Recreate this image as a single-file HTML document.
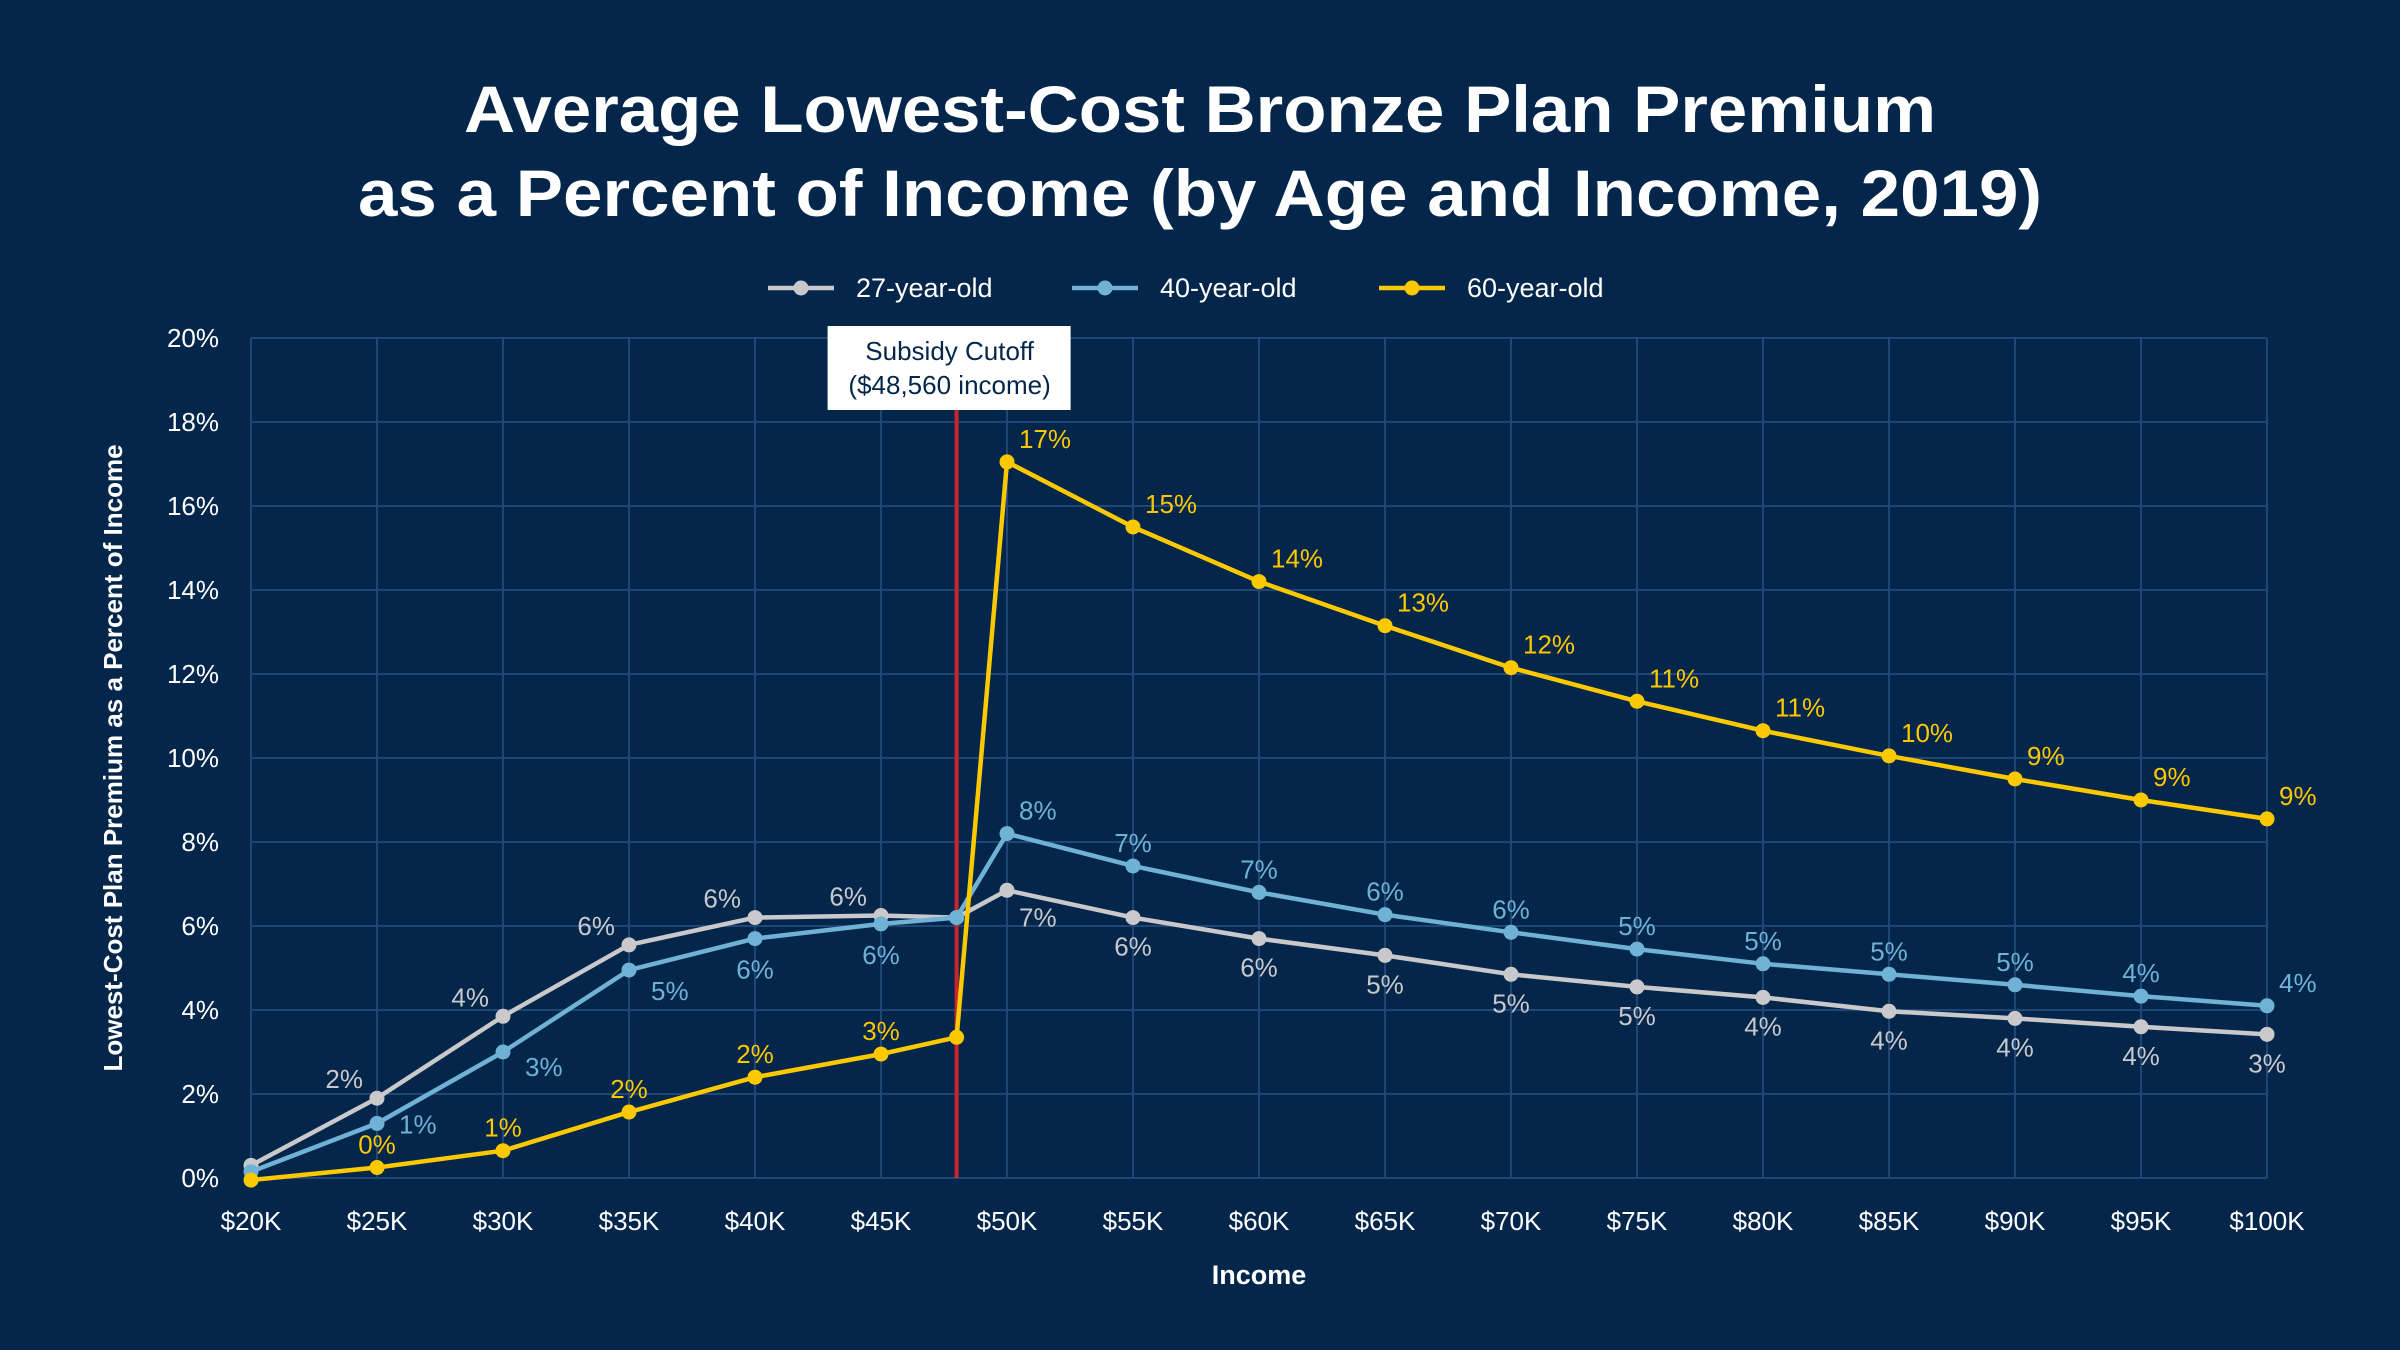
<!DOCTYPE html>
<html><head><meta charset="utf-8">
<style>
html,body{margin:0;padding:0;background:#03264a;}
svg{display:block;font-family:"Liberation Sans","DejaVu Sans",sans-serif;}
</style></head>
<body>
<svg id="chart" width="2400" height="1350" viewBox="0 0 2400 1350" xmlns="http://www.w3.org/2000/svg">
<rect width="2400" height="1350" fill="#03264a"/>
<text x="1200" y="132" text-anchor="middle" font-size="66" font-weight="bold" fill="#fff" textLength="1472" lengthAdjust="spacingAndGlyphs">Average Lowest-Cost Bronze Plan Premium</text>
<text x="1200" y="216" text-anchor="middle" font-size="66" font-weight="bold" fill="#fff" textLength="1684" lengthAdjust="spacingAndGlyphs">as a Percent of Income (by Age and Income, 2019)</text>
<g id="legend"></g>
<g id="grid"></g>
<g id="axes"></g>
<g id="series"></g>
<text x="1259" y="1284" text-anchor="middle" font-size="27" font-weight="bold" fill="#fff">Income</text>
<text transform="translate(122,758) rotate(-90)" text-anchor="middle" font-size="26" font-weight="bold" fill="#fff">Lowest-Cost Plan Premium as a Percent of Income</text>
</svg>
<script>
const incomes = [20,25,30,35,40,45,48,50,55,60,65,70,75,80,85,90,95,100];
const age27 = [0.3,1.9,3.85,5.55,6.2,6.25,6.2,6.85,6.2,5.7,5.3,4.85,4.55,4.3,3.97,3.8,3.6,3.42];
const age40 = [0.15,1.3,3.0,4.95,5.7,6.05,6.2,8.2,7.43,6.8,6.27,5.85,5.45,5.1,4.85,4.6,4.33,4.1];
const age60 = [-0.05,0.25,0.65,1.57,2.4,2.95,3.35,17.05,15.5,14.2,13.15,12.15,11.35,10.65,10.05,9.5,9.0,8.55];
const labels27 = ["","2%","4%","6%","6%","6%","","7%","6%","6%","5%","5%","5%","4%","4%","4%","4%","3%"];
const labels40 = ["","1%","3%","5%","6%","6%","","8%","7%","7%","6%","6%","5%","5%","5%","5%","4%","4%"];
const labels60 = ["","0%","1%","2%","2%","3%","","17%","15%","14%","13%","12%","11%","11%","10%","9%","9%","9%"];
const xTickValues = [20,25,30,35,40,45,50,55,60,65,70,75,80,85,90,95,100];
const yTickValues = [0,2,4,6,8,10,12,14,16,18,20];
const cutoffIncome = 48;

const NS="http://www.w3.org/2000/svg";
const X0=251,X1=2267,Y0=1178,Y1=338;
function xs(v){return X0+(v-20)/80*(X1-X0);}
function ys(v){return Y0-(v/20)*(Y0-Y1);}
function mk(tag,attrs,parent,txt){const e=document.createElementNS(NS,tag);for(const k in attrs)e.setAttribute(k,attrs[k]);if(txt!==undefined)e.textContent=txt;parent.appendChild(e);return e;}

const grid=document.getElementById('grid');
yTickValues.forEach(v=>{
  const l=mk('line',{x1:X0,x2:X1,y1:ys(v),y2:ys(v),stroke:'#1e4677','stroke-width':2},grid);
  
  
});
xTickValues.forEach(v=>{
  const l=mk('line',{x1:xs(v),x2:xs(v),y1:Y1,y2:Y0,stroke:'#1e4677','stroke-width':2},grid);
  
  
});
const axes=document.getElementById('axes');
yTickValues.forEach(v=>{
  const t=mk('text',{x:219,y:ys(v)+9,'text-anchor':'end','font-size':26,fill:'#fff'},axes,v+'%');
  
  
});
xTickValues.forEach(v=>{
  const t=mk('text',{x:xs(v),y:1230,'text-anchor':'middle','font-size':26,fill:'#fff'},axes,'$'+v+'K');
  
  
});

const series=document.getElementById('series');
const cx=xs(cutoffIncome);
const cl=mk('line',{x1:cx,x2:cx,y1:400,y2:Y0,stroke:'#c8262b','stroke-width':4},series);


const box=mk('rect',{x:cx-129,y:326,width:243,height:84,fill:'#fff'},series);


const a1=mk('text',{x:cx-7,y:360,'text-anchor':'middle','font-size':26,fill:'#03264a'},series,'Subsidy Cutoff');


const a2=mk('text',{x:cx-7,y:394,'text-anchor':'middle','font-size':26,fill:'#03264a'},series,'($48,560 income)');



function drawSeries(vals,labs,color,name,labelPos){
  const g=mk('g',{},series);
  
  
  const pts=vals.map((v,i)=>xs(incomes[i])+','+ys(v)).join(' ');
  const pl=mk('polyline',{points:pts,fill:'none',stroke:color,'stroke-width':4.5,'stroke-linejoin':'round'},g);
  
  
  vals.forEach((v,i)=>{
    const c=mk('circle',{cx:xs(incomes[i]),cy:ys(v),r:7.5,fill:color},g);
    
    
    if(labs[i]){
      const o=labelPos(i);
      const t=mk('text',{x:xs(incomes[i])+o[0],y:ys(v)+o[1],'text-anchor':o[2],'font-size':26,fill:color},g,labs[i]);
      
      
    }
  });
}
const lab40Right=[0,10,24,30];
drawSeries(age27,labels27,'#c9c9cb','age-27',i=>i<6?[-14,-10,'end']:[i===7?12:0,i===7?36:38,i===7?'start':'middle']);
drawSeries(age40,labels40,'#6fb2d6','age-40',i=>i<4?[22,lab40Right[i],'start']:(i<6?[0,40,'middle']:(i===7?[12,-14,'start']:(i===17?[12,-14,'start']:[0,-14,'middle']))));
drawSeries(age60,labels60,'#fcc800','age-60',i=>i<6?[0,-14,'middle']:[12,-14,'start']);

const legend=document.getElementById('legend');
const items=[['27-year-old','#c9c9cb',768],['40-year-old','#6fb2d6',1072],['60-year-old','#fcc800',1379]];
items.forEach(it=>{
  const g=mk('g',{},legend);
  
  
  mk('line',{x1:it[2],x2:it[2]+66,y1:288,y2:288,stroke:it[1],'stroke-width':4.5},g);
  mk('circle',{cx:it[2]+33,cy:288,r:7.5,fill:it[1]},g);
  mk('text',{x:it[2]+88,y:297,'font-size':27,fill:'#fff'},g,it[0]);
});
</script>
</body></html>
